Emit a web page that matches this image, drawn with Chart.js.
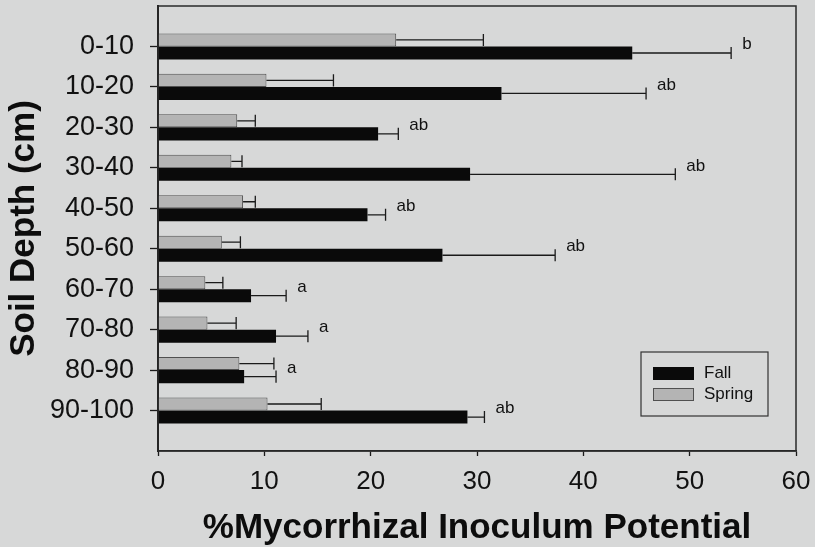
<!DOCTYPE html>
<html>
<head>
<meta charset="utf-8">
<script src="https://cdn.jsdelivr.net/npm/chart.js@4.4.0/dist/chart.umd.min.js"></script>
<style>
html,body{margin:0;padding:0;background:#d7d8d8;overflow:hidden;}
canvas{display:block;}
</style>
</head>
<body>
<canvas id="c" width="815" height="547"></canvas>
<script>
// ---- data ----
const depths = ['0-10','10-20','20-30','30-40','40-50','50-60','60-70','70-80','80-90','90-100'];
const fall = [44.6, 32.3, 20.7, 29.35, 19.7, 26.75, 8.75, 11.1, 8.1, 29.1];
const fallErr = [9.3, 13.6, 1.9, 19.3, 1.7, 10.6, 3.3, 3.0, 3.0, 1.6];
const spring = [22.4, 10.2, 7.45, 6.9, 8.0, 6.0, 4.45, 4.65, 7.65, 10.3];
const springErr = [8.2, 6.3, 1.7, 1.0, 1.15, 1.75, 1.65, 2.7, 3.25, 5.05];
const fallLetters = ['b','ab','ab','ab','ab','ab','a','a','a','ab'];
const xTicks = [0, 10, 20, 30, 40, 50, 60];
const seriesNames = ['Fall', 'Spring'];

const FONT = "'Liberation Sans', Arial, Helvetica, sans-serif";
const FALL_COLOR = '#0a0a0a';
const SPRING_COLOR = '#b4b4b4';
const SPRING_BORDER = '#505050';
const INK = '#1a1a1a';

const labels = ['', ...depths, ''];
const pad = arr => [null, ...arr, null];

const overlay = {
  id: 'overlay',
  afterDatasetsDraw(chart) {
    const {ctx, chartArea: a, scales: {x, y}} = chart;
    const sets = [
      {meta: chart.getDatasetMeta(0), vals: spring, err: springErr},
      {meta: chart.getDatasetMeta(1), vals: fall, err: fallErr}
    ];
    ctx.save();
    ctx.strokeStyle = INK;
    ctx.lineWidth = 1.3;
    sets.forEach(s => {
      s.vals.forEach((v, i) => {
        const bar = s.meta.data[i + 1];
        const x0 = x.getPixelForValue(v);
        const x1 = x.getPixelForValue(v + s.err[i]);
        const yc = bar.y, h = bar.height;
        ctx.beginPath();
        ctx.moveTo(x0, yc); ctx.lineTo(x1, yc);
        ctx.moveTo(x1, yc - h / 2 + 0.5); ctx.lineTo(x1, yc + h / 2 - 0.5);
        ctx.stroke();
      });
    });
    // significance letters
    ctx.fillStyle = '#111';
    ctx.font = '17px ' + FONT;
    ctx.textAlign = 'left';
    ctx.textBaseline = 'middle';
    fallLetters.forEach((t, i) => {
      const xe = x.getPixelForValue(fall[i] + fallErr[i]);
      const yc = y.getPixelForTick(i + 1);
      ctx.fillText(t, xe + 11, yc - 2);
    });
    // frame
    ctx.strokeStyle = '#2a2a2a';
    ctx.lineWidth = 1.5;
    ctx.strokeRect(a.left, a.top, a.right - a.left, a.bottom - a.top);
    // legend
    const lx = a.right - 155, ly = a.bottom - 99, lw = 127, lh = 64;
    ctx.lineWidth = 1.2;
    ctx.strokeStyle = '#333';
    ctx.strokeRect(lx, ly, lw, lh);
    const entries = [
      {name: seriesNames[0], fill: FALL_COLOR, stroke: FALL_COLOR, dy: 15},
      {name: seriesNames[1], fill: SPRING_COLOR, stroke: SPRING_BORDER, dy: 36}
    ];
    ctx.font = '17px ' + FONT;
    entries.forEach(e => {
      ctx.fillStyle = e.fill;
      ctx.fillRect(lx + 12, ly + e.dy, 41, 13);
      ctx.strokeStyle = e.stroke;
      ctx.lineWidth = 1;
      ctx.strokeRect(lx + 12.5, ly + e.dy + 0.5, 40, 12);
      ctx.fillStyle = '#111';
      ctx.fillText(e.name, lx + 63, ly + e.dy + 6.5);
    });
    ctx.restore();
  }
};

new Chart(document.getElementById('c'), {
  type: 'bar',
  data: {
    labels: labels,
    datasets: [
      {label: seriesNames[1], data: pad(spring), backgroundColor: SPRING_COLOR, borderColor: SPRING_BORDER, borderWidth: 1,
       categoryPercentage: 0.645, barPercentage: 1},
      {label: seriesNames[0], data: pad(fall), backgroundColor: FALL_COLOR, borderColor: FALL_COLOR, borderWidth: 0,
       categoryPercentage: 0.645, barPercentage: 1}
    ]
  },
  options: {
    indexAxis: 'y',
    responsive: false,
    animation: false,
    devicePixelRatio: 1,
    layout: {padding: {top: 6, right: 19, left: 0, bottom: 0}},
    plugins: {legend: {display: false}, tooltip: {enabled: false}},
    scales: {
      x: {
        type: 'linear', min: 0, max: 60,
        afterBuildTicks: s => { s.ticks = xTicks.map(v => ({value: v})); },
        grid: {drawOnChartArea: false, drawTicks: true, tickLength: 5, tickColor: INK, tickWidth: 1.3},
        border: {display: true, color: '#222', width: 1.5},
        ticks: {font: {family: FONT, size: 26}, color: '#111', padding: 10, maxRotation: 0, autoSkip: false},
        title: {display: true, text: '%Mycorrhizal Inoculum Potential', color: '#0d0d0d',
                font: {family: FONT, size: 35, weight: 'bold', lineHeight: 1}, padding: {top: 0, bottom: 1}},
        afterFit: s => { s.height = 96; s.paddingLeft = 0; s.paddingRight = 0; }
      },
      y: {
        type: 'category', offset: false,
        grid: {offset: false, drawOnChartArea: false, drawTicks: true, tickLength: 8, tickWidth: 1.3,
               tickColor: c => (c.index === 0 || c.index === labels.length - 1) ? 'rgba(0,0,0,0)' : INK},
        border: {display: true, color: '#1a1a1a', width: 2},
        ticks: {font: {family: FONT, size: 27}, color: '#111', padding: 16, autoSkip: false},
        title: {display: true, text: 'Soil Depth (cm)', color: '#0d0d0d',
                font: {family: FONT, size: 35, weight: 'bold', lineHeight: 1}, padding: {top: 7, bottom: 0}},
        afterFit: s => { s.width = 158; s.paddingTop = 0; s.paddingBottom = 0; }
      }
    }
  },
  plugins: [overlay]
});
</script>
</body>
</html>
